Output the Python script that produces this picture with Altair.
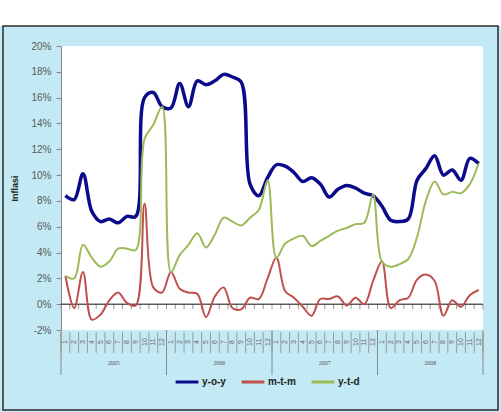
import altair as alt
import pandas as pd

years = ["2005", "2006", "2007", "2008"]
month_labels = [str(m) for m in range(1, 13)] * 4

yoy = [8.4, 8.1, 10.1, 7.2, 6.4, 6.6, 6.3, 6.8, 6.8, 16.0, 16.4, 15.3,
       15.2, 17.1, 15.3, 17.3, 17.0, 17.3, 17.8, 17.6, 17.2, 9.3, 8.4, 9.8,
       10.8, 10.7, 10.2, 9.5, 9.8, 9.3, 8.3, 8.9, 9.2, 9.0, 8.6, 8.4,
       7.6, 6.5, 6.4, 6.6, 9.6, 10.5, 11.5, 10.0, 10.4, 9.6, 11.3, 10.9]
mtm = [2.2, -0.3, 2.5, -1.2, -0.8, 0.3, 0.9, 0.1, -0.1, 7.8, 1.3, 0.9,
       2.5, 1.2, 0.9, 0.8, -1.0, 0.6, 1.3, -0.3, -0.4, 0.5, 0.4, 2.0,
       3.6, 1.0, 0.5, -0.2, -0.9, 0.4, 0.4, 0.6, -0.1, 0.5, 0.0, 1.8,
       3.3, -0.3, 0.3, 0.5, 1.9, 2.3, 1.8, -0.9, 0.3, -0.2, 0.7, 1.1]
ytd = [2.2, 2.0, 4.6, 3.6, 2.9, 3.3, 4.3, 4.3, 4.2, 12.8, 13.9, 15.3,
       2.5, 3.8, 4.6, 5.5, 4.4, 5.4, 6.7, 6.4, 6.1, 6.7, 7.3, 9.6,
       3.6, 4.7, 5.1, 5.3, 4.5, 4.9, 5.3, 5.7, 5.9, 6.2, 6.3, 8.5,
       3.3, 2.9, 3.1, 3.5, 5.2, 8.0, 9.5, 8.5, 8.7, 8.6, 9.3, 10.9]

series_names = ["y-o-y", "m-t-m", "y-t-d"]
series_colors = ["#0a0a8a", "#c0504d", "#9bbb59"]
series_widths = [3.5, 2, 2]

rows = []
for name, vals in zip(series_names, [yoy, mtm, ytd]):
    for i, v in enumerate(vals):
        rows.append({"series": name, "pos": i + 0.5, "value": v, "order": i})
df = pd.DataFrame(rows)

W, H = 422, 284
y0px = H * 20 / 22
px_x = 48 / W          # data units per pixel (x)
px_y = 22 / H          # data units per pixel (y)

xscale = alt.Scale(domain=[0, 48], nice=False, zero=False)
yscale = alt.Scale(domain=[-2, 20], nice=False)
cscale = alt.Scale(domain=series_names, range=series_colors)

y_axis = alt.Axis(values=list(range(-2, 21, 2)),
                  labelExpr="datum.value + '%'",
                  labelOverlap=False, labelFlush=False,
                  title="Inflasi", titleFontWeight="bold",
                  titleFontSize=9, titleColor="#222222",
                  titlePadding=11, labelPadding=5,
                  labelFontSize=10, labelColor="#595959",
                  labelFont="Liberation Sans",
                  domainColor="#868686", tickColor="#868686",
                  tickSize=5, grid=False)

one = pd.DataFrame({"a": [0]})

# white strip above the frame
top_white = alt.Chart(one).mark_rect(fill="white").encode(
    x=alt.X(datum=-70 * px_x, scale=xscale, axis=None),
    x2=alt.X2(datum=460 * px_x),
    y=alt.Y(datum=20 + 50 * px_y, scale=yscale, axis=y_axis),
    y2=alt.Y2(datum=20 + 20 * px_y),
)
# frame outline
frame = alt.Chart(one).mark_rect(fillOpacity=0, stroke="#2b2b2b", strokeWidth=1.5).encode(
    x=alt.X(datum=-58 * px_x, scale=xscale, axis=None),
    x2=alt.X2(datum=437 * px_x),
    y=alt.Y(datum=20 + 20 * px_y, scale=yscale, axis=y_axis),
    y2=alt.Y2(datum=20 - 364 * px_y),
)

month_df = pd.DataFrame({"pos": [i + 0.5 for i in range(48)], "label": month_labels})
sep_df = pd.DataFrame({"b": list(range(49))})
year_sep_df = pd.DataFrame({"b": [0, 12, 24, 36, 48]})
year_df = pd.DataFrame({"pos": [6, 18, 30, 42], "year": years})

month_axis = alt.Chart(month_df).mark_text(
    angle=270, fontSize=7, color="#666666", font="Liberation Sans"
).encode(x=alt.X("pos:Q", scale=xscale, axis=None), y=alt.value(H + 12), text="label:N")

month_sep = alt.Chart(sep_df).mark_rule(color="#9a9a9a", strokeWidth=1).encode(
    x=alt.X("b:Q", scale=xscale, axis=None), y=alt.value(H + 2), y2=alt.value(H + 23))

year_sep = alt.Chart(year_sep_df).mark_rule(color="#8a8a8a", strokeWidth=1).encode(
    x=alt.X("b:Q", scale=xscale, axis=None), y=alt.value(H), y2=alt.value(H + 45))

zero_ticks = alt.Chart(sep_df).mark_rule(color="#9a9a9a", strokeWidth=1).encode(
    x=alt.X("b:Q", scale=xscale, axis=None), y=alt.value(y0px), y2=alt.value(y0px + 5))

zero_line = alt.Chart(pd.DataFrame({"v": [0]})).mark_rule(color="#111111", strokeWidth=1).encode(
    y=alt.Y("v:Q", scale=yscale, axis=y_axis), x=alt.value(0), x2=alt.value(W))

year_text = alt.Chart(year_df).mark_text(
    fontSize=6, color="#555555", font="Liberation Serif"
).encode(x=alt.X("pos:Q", scale=xscale, axis=None), y=alt.value(H + 33), text="year:N")

lines = []
for name, wdt in zip(series_names, series_widths):
    lines.append(
        alt.Chart(df).transform_filter(alt.datum.series == name).mark_line(
            interpolate="catmull-rom", strokeWidth=wdt
        ).encode(
            x=alt.X("pos:Q", scale=xscale, axis=None),
            y=alt.Y("value:Q", scale=yscale, axis=y_axis),
            color=alt.Color("series:N", scale=cscale,
                            legend=alt.Legend(title=None, orient="none",
                                              direction="horizontal",
                                              legendX=113, legendY=323,
                                              symbolType="stroke",
                                              symbolStrokeWidth=3,
                                              symbolSize=520,
                                              labelFontSize=10,
                                              labelFontWeight="bold",
                                              labelColor="#222222",
                                              labelFont="Liberation Sans",
                                              labelOffset=2,
                                              columnPadding=9)),
            order="order:Q",
        )
    )

chart = alt.layer(top_white, frame, month_sep, year_sep, zero_ticks, zero_line,
                  *lines, month_axis, year_text).properties(
    width=W, height=H,
    autosize=alt.AutoSizeParams(type="none"),
    padding={"left": 61, "top": 46, "right": 18, "bottom": 82},
    background="#c3e9f4",
).configure_view(stroke=None, fill="white")

chart.save("out.html", embed_options={"renderer": "svg", "actions": False})
